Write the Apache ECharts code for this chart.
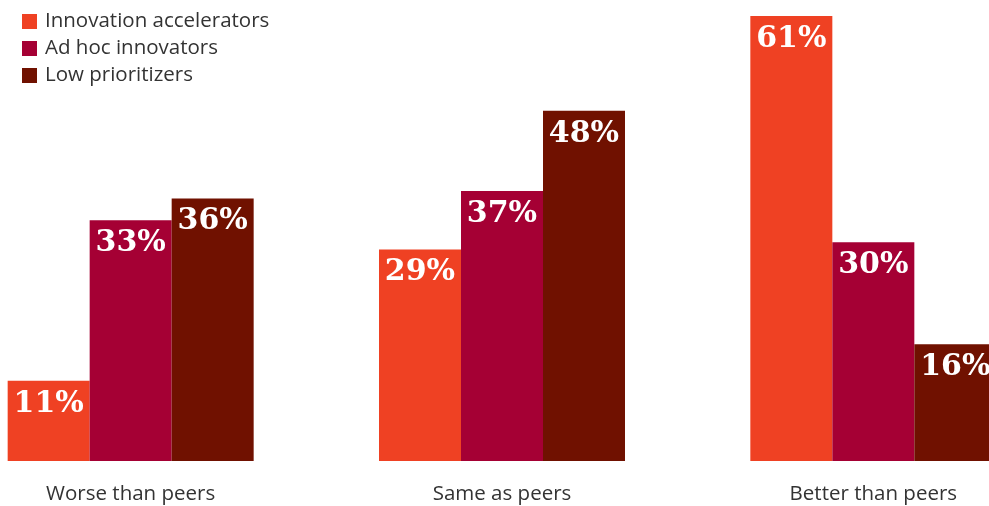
<!DOCTYPE html>
<html>
<head>
<meta charset="utf-8">
<script src="https://cdn.jsdelivr.net/npm/echarts@6/dist/echarts.min.js"></script>
<style>
  html, body { margin: 0; padding: 0; background: #fff; overflow: hidden; }
  /* chart is wider than the window and shifted left so the groups sit like the original crop */
  #chart { width: 1114px; height: 506px; margin-left: -55px; }
</style>
</head>
<body>
<div id="chart"></div>
<script>
// data
var categories = ["Worse than peers", "Same as peers", "Better than peers"];
var accelerators = [11, 29, 61];
var adHoc = [33, 37, 30];
var lowPrioritizers = [36, 48, 16];

var colors = ["#EF4123", "#A50034", "#701100"];

var chart = echarts.init(document.getElementById("chart"));

var barLabel = {
  show: true,
  position: "insideTop",
  distance: 8,
  color: "#fff",
  fontFamily: "DejaVu Serif",
  fontWeight: "bold",
  fontSize: 30,
  formatter: "{c}%"
};

var option = {
  animation: false,
  color: colors,
  legend: {
    orient: "vertical",
    left: 72,
    top: 6,
    icon: "rect",
    itemWidth: 15,
    itemHeight: 15,
    itemGap: 6,
    textStyle: { color: "#333", fontSize: 20.5, fontFamily: "Open Sans", padding: [0, 0, 0, 3] },
    data: ["Innovation accelerators", "Ad hoc innovators", "Low prioritizers"]
  },
  grid: { left: 0, right: 0, top: 16, bottom: 45 },
  xAxis: {
    type: "category",
    data: categories,
    axisLine: { show: false },
    axisTick: { show: false },
    axisLabel: { color: "#333", fontSize: 20.5, fontFamily: "Open Sans", margin: 23 }
  },
  yAxis: {
    type: "value",
    min: 0,
    max: 61,
    show: false,
    splitLine: { show: false }
  },
  series: [
    { name: "Innovation accelerators", type: "bar", data: accelerators, barWidth: 82, barGap: "0%", label: barLabel },
    { name: "Ad hoc innovators", type: "bar", data: adHoc, barWidth: 82, barGap: "0%", label: barLabel },
    { name: "Low prioritizers", type: "bar", data: lowPrioritizers, barWidth: 82, barGap: "0%", label: barLabel }
  ]
};

chart.setOption(option);
</script>
</body>
</html>
